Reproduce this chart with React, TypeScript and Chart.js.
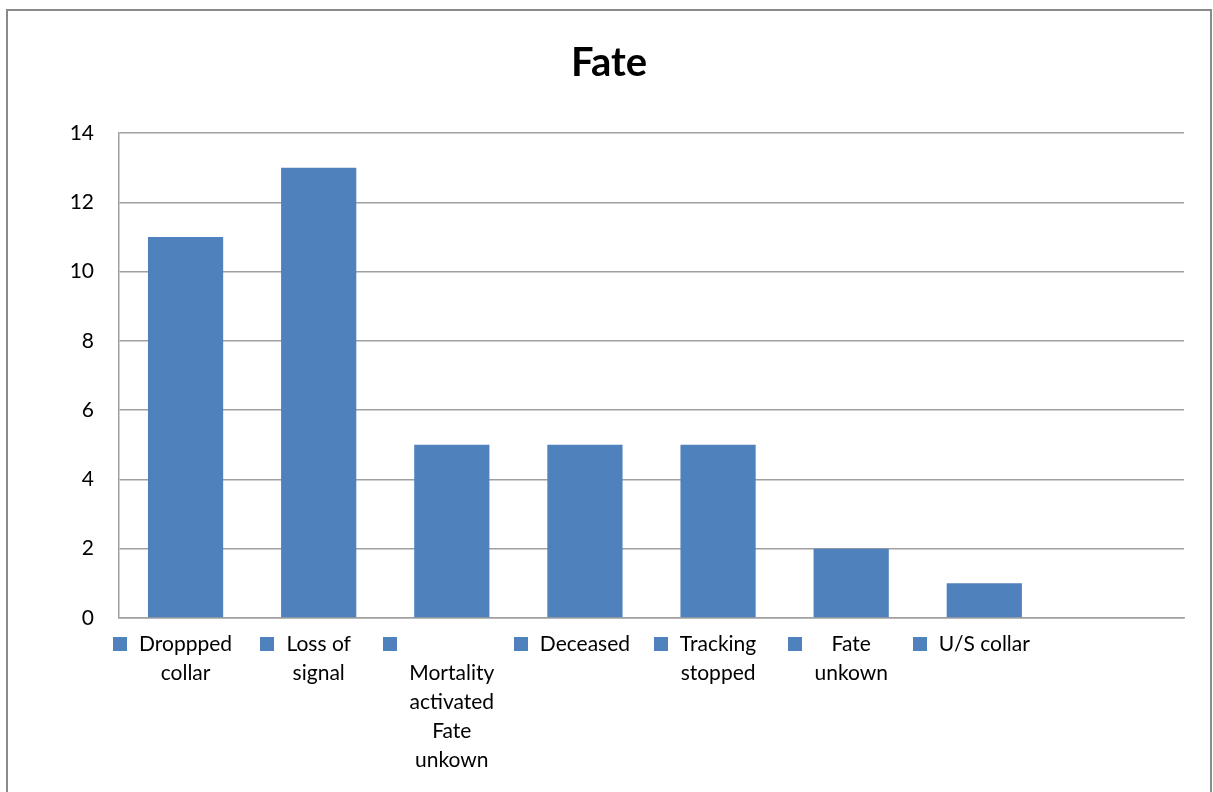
import React, { useEffect, useRef } from "react";
import { Chart, registerables } from "chart.js";

Chart.register(...registerables);

const chartTitle = "Fate";
const categoryLines: string[][] = [
  ["Droppped", "collar"],
  ["Loss of", "signal"],
  ["", "Mortality", "activated", "Fate", "unkown"],
  ["Deceased"],
  ["Tracking", "stopped"],
  ["Fate", "unkown"],
  ["U/S collar"],
  [],
];
const categories = categoryLines.map((l) => l.filter(Boolean).join(" "));
const values: (number | null)[] = [11, 13, 5, 5, 5, 2, 1, null];
const yMin = 0;
const yMax = 14;
const yStep = 2;

const BAR_COLOR = "#4F81BD";
const GRID_COLOR = "#a0a0a0";
const FONT = "Lato";

const decorPlugin = {
  id: "decor",
  afterDraw(chart: any) {
    const { ctx } = chart;
    const x = chart.scales.x;
    ctx.save();
    // outer border
    ctx.strokeStyle = "#8a8a8a";
    ctx.lineWidth = 2;
    ctx.strokeRect(7, 10, 1204, 800);
    // title
    ctx.fillStyle = "#000";
    ctx.textAlign = "center";
    ctx.textBaseline = "alphabetic";
    ctx.font = `bold 40px ${FONT}`;
    ctx.fillText(chartTitle, 609, 76);
    // legend-like category labels
    ctx.font = `21px ${FONT}`;
    categoryLines.forEach((lines, i) => {
      if (!lines.length) return;
      const cx = x.getPixelForValue(i);
      const maxW = Math.max(...lines.map((l) => ctx.measureText(l).width));
      ctx.fillStyle = BAR_COLOR;
      ctx.fillRect(Math.round(cx - maxW / 2 - 12 - 14), 637, 14, 14);
      ctx.fillStyle = "#000";
      lines.forEach((l, j) => {
        if (l) ctx.fillText(l, cx, 651 + j * 29);
      });
    });
    ctx.restore();
  },
};

export default function App() {
  const ref = useRef<HTMLCanvasElement | null>(null);
  useEffect(() => {
    document.body.style.margin = "0";
    const canvas = ref.current!;
    const chart = new Chart(canvas, {
      type: "bar",
      data: {
        labels: categories,
        datasets: [
          {
            data: values,
            backgroundColor: BAR_COLOR,
            borderWidth: 0,
            barPercentage: 0.565,
            categoryPercentage: 1,
          },
        ],
      },
      options: {
        responsive: false,
        animation: false,
        devicePixelRatio: 1,
        layout: { padding: { top: 133, right: 29, bottom: 174, left: 0 } },
        plugins: {
          legend: { display: false },
          title: { display: false },
          tooltip: { enabled: false },
        },
        scales: {
          x: {
            grid: { display: false },
            border: { display: true, color: GRID_COLOR, width: 1.5 },
            ticks: { display: false },
            afterFit: (s: any) => {
              s.height = 0;
            },
          },
          y: {
            min: yMin,
            max: yMax,
            grid: { color: GRID_COLOR, lineWidth: 1.5, drawTicks: false },
            border: { display: true, color: GRID_COLOR, width: 1.5 },
            ticks: {
              stepSize: yStep,
              padding: 25,
              color: "#000",
              font: { family: FONT, size: 21 },
            },
            afterFit: (s: any) => {
              s.width = 119;
            },
          },
        },
      },
      plugins: [decorPlugin],
    });
    return () => chart.destroy();
  }, []);
  return (
    <div style={{ position: "fixed", left: 0, top: 0, width: 1213, height: 792, background: "#fff" }}>
      <canvas ref={ref} width={1213} height={792} />
    </div>
  );
}
